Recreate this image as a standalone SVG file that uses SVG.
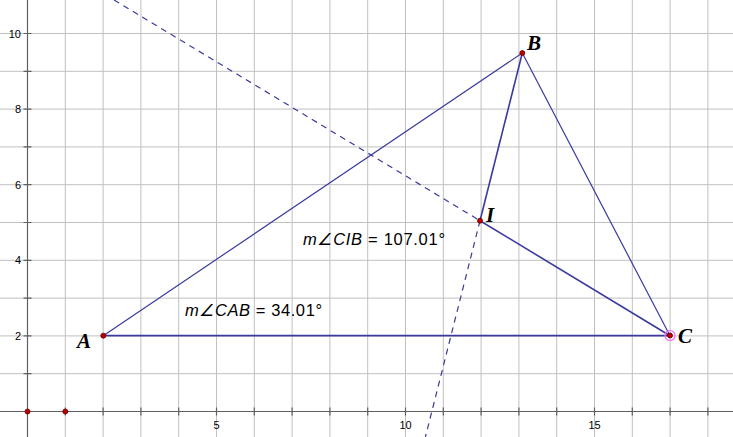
<svg xmlns="http://www.w3.org/2000/svg" width="733" height="437" viewBox="0 0 733 437">
<style>
.grid{stroke:#c0c0c0;stroke-width:1}
.axis{stroke:#606060;stroke-width:1.2}
.tick{stroke:#606060;stroke-width:1.2}
.num{font-family:"Liberation Sans",Arial,sans-serif;font-size:11px;fill:#000}
.seg{stroke:#3a3a9e;stroke-width:1.2;fill:none}
.dash{stroke:#3a3a9e;stroke-width:1.2;fill:none;stroke-dasharray:6 5}
.pt{fill:#c00000;stroke:#600000;stroke-width:0.8}
.lbl{font-family:"Liberation Serif","Times New Roman",serif;font-style:italic;font-weight:bold;font-size:21px;fill:#000}
.meas{font-family:"Liberation Sans",Arial,sans-serif;font-size:16.5px;fill:#000}
</style>
<rect width="733" height="437" fill="#fff"/>
<g id="grid">
<path class="grid" d="M65.3 0V437M103.1 0V437M140.9 0V437M178.7 0V437M216.5 0V437M254.3 0V437M292.1 0V437M329.9 0V437M367.7 0V437M405.5 0V437M443.3 0V437M481.1 0V437M518.9 0V437M556.7 0V437M594.5 0V437M632.3 0V437M670.1 0V437M707.9 0V437"/>
<path class="grid" d="M0 373.7H733M0 335.9H733M0 298.1H733M0 260.3H733M0 222.5H733M0 184.7H733M0 146.9H733M0 109.1H733M0 71.3H733M0 33.5H733"/>
</g>
<g id="axes">
<path class="axis" d="M27.5 0V437M0 411.5H733"/>
<path class="tick" d="M65.3 407.5V415.5M103.1 407.5V415.5M140.9 407.5V415.5M178.7 407.5V415.5M216.5 407.5V415.5M254.3 407.5V415.5M292.1 407.5V415.5M329.9 407.5V415.5M367.7 407.5V415.5M405.5 407.5V415.5M443.3 407.5V415.5M481.1 407.5V415.5M518.9 407.5V415.5M556.7 407.5V415.5M594.5 407.5V415.5M632.3 407.5V415.5M670.1 407.5V415.5M707.9 407.5V415.5"/>
<path class="tick" d="M23.5 373.7H31.5M23.5 335.9H31.5M23.5 298.1H31.5M23.5 260.3H31.5M23.5 222.5H31.5M23.5 184.7H31.5M23.5 146.9H31.5M23.5 109.1H31.5M23.5 71.3H31.5M23.5 33.5H31.5"/>
<text class="num" x="21" y="339.5" text-anchor="end">2</text>
<text class="num" x="21" y="264" text-anchor="end">4</text>
<text class="num" x="21" y="188.5" text-anchor="end">6</text>
<text class="num" x="21" y="113" text-anchor="end">8</text>
<text class="num" x="21" y="37.5" text-anchor="end">10</text>
<text class="num" x="216.5" y="429" text-anchor="middle">5</text>
<text class="num" x="405.5" y="429" text-anchor="middle">10</text>
<text class="num" x="594.5" y="429" text-anchor="middle">15</text>
</g>
<g id="connectors">
<line class="dash" x1="114" y1="0" x2="480" y2="220.7"/>
<line class="dash" x1="480" y1="220.7" x2="425.4" y2="437"/>
<line class="seg" x1="103.3" y1="335.7" x2="522.3" y2="53"/>
<line class="seg" x1="103.3" y1="335.7" x2="670" y2="335.7" style="stroke-width:1.8"/>
<line class="seg" x1="522.3" y1="53" x2="670" y2="335.7"/>
<line class="seg" x1="522.3" y1="53" x2="480" y2="220.7" style="stroke-width:1.6"/>
<line class="seg" x1="480" y1="220.7" x2="670" y2="335.7" style="stroke-width:1.6"/>
</g>
<g id="origin-points">
<circle class="pt" cx="27.5" cy="411.5" r="2.5"/>
<circle class="pt" cx="65.3" cy="411.5" r="2.5"/>
</g>
<g id="A"><circle class="pt" cx="103.3" cy="335.7" r="2.5"/><text class="lbl" x="77" y="348">A</text></g>
<g id="B"><circle class="pt" cx="522.3" cy="53" r="2.5"/><text class="lbl" x="527" y="50">B</text></g>
<g id="C"><circle cx="670" cy="335.5" r="5" fill="none" stroke="#ff66ff" stroke-width="1.2"/><circle class="pt" cx="670" cy="335.5" r="2.5"/><text class="lbl" x="678" y="343">C</text></g>
<g id="I"><circle class="pt" cx="480" cy="220.7" r="2.5"/><text class="lbl" x="486" y="222">I</text></g>
<g id="measure-CIB"><text class="meas" x="303" y="245" textLength="142" lengthAdjust="spacing"><tspan font-style="italic">m∠CIB</tspan> = 107.01°</text></g>
<g id="measure-CAB"><text class="meas" x="185" y="316" textLength="137" lengthAdjust="spacing"><tspan font-style="italic">m∠CAB</tspan> = 34.01°</text></g>
</svg>
